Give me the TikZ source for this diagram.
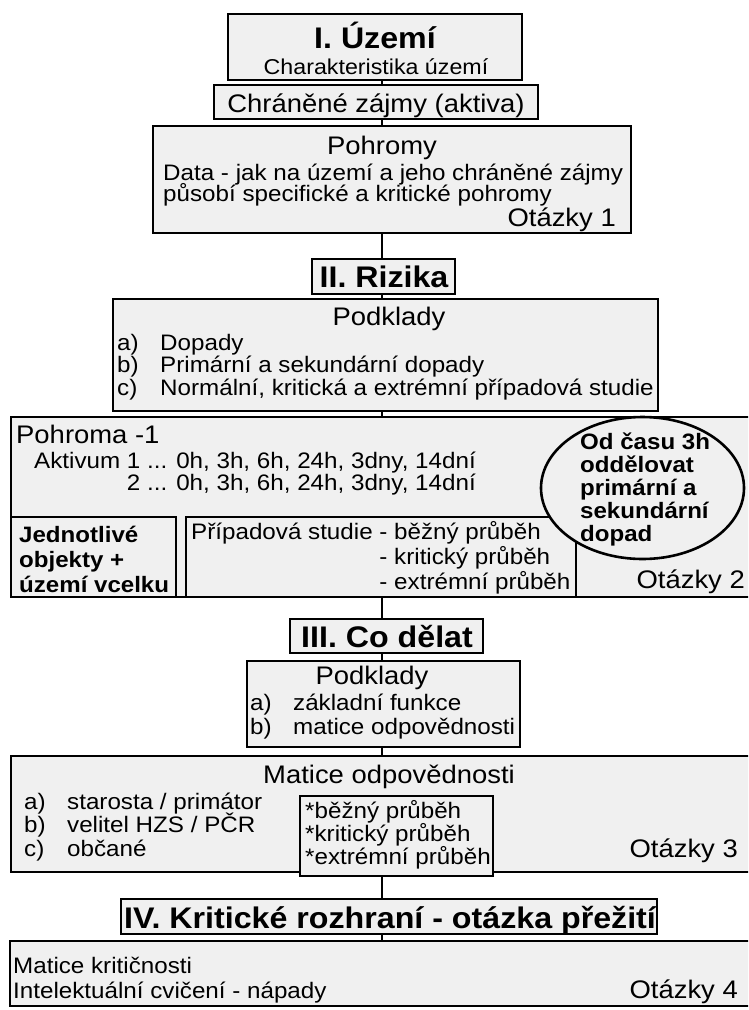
\documentclass[tikz,border=0pt]{standalone}
\usepackage{fontspec}
\setmainfont[FakeStretch=1.08]{Liberation Sans}
\usetikzlibrary{shapes.geometric}
\definecolor{boxfill}{HTML}{F0F0F0}
\newcommand{\txtbody}{\fontsize{22.4}{23}\selectfont}
\newcommand{\txtbold}{\fontsize{22.3}{23}\selectfont\bfseries}
\newcommand{\txtmid}{\fontsize{25.4}{26}\selectfont}
\newcommand{\txthead}{\fontsize{29.8}{30}\selectfont\bfseries}
\newcommand{\txtsmall}{\fontsize{21.5}{22}\selectfont}
\begin{document}
\begin{tikzpicture}[x=1pt,y=-1pt,
  box/.style={draw=black, line width=2.6pt, fill=boxfill, inner sep=0pt, rectangle},
  link/.style={draw=black, line width=2.8pt},
  txt/.style={inner sep=0pt, anchor=base west},
  ctxt/.style={inner sep=0pt, anchor=base},
  rtxt/.style={inner sep=0pt, anchor=base east}]
\useasboundingbox (0,0) rectangle (748,1010);
\clip (0,0) rectangle (748,1010);
\fill[white] (0,0) rectangle (748,1010);
\coordinate (spine) at (382,0);

% I. Uzemi
\node[box, minimum width=294pt, minimum height=66pt] (uzemi) at (375,47) {};
\node[ctxt, font=\txthead] (uzemiT) at (375,48) {I. Území};
\node[ctxt, font=\txtsmall] (uzemiS) at (376,74) {Charakteristika území};

\node[box, minimum width=324pt, minimum height=34pt] (aktiva) at (376,102) {};
\node[ctxt, font=\txtmid] (aktivaT) at (376,112) {Chráněné zájmy (aktiva)};

\node[box, minimum width=478pt, minimum height=107pt] (pohromy) at (392,179.5) {};
\node[ctxt, font=\txtmid] (pohromyT) at (382,154) {Pohromy};
\node[txt, font=\txtbody] (pohromyA) at (163,180) {Data - jak na území a jeho chráněné zájmy};
\node[txt, font=\txtbody] (pohromyB) at (163,201) {působí specifické a kritické pohromy};
\node[rtxt, font=\txtmid] (otazky1) at (616,226) {Otázky 1};

% II. Rizika
\node[box, minimum width=143pt, minimum height=35pt] (rizika) at (383.5,276.5) {};
\node[ctxt, font=\txthead] (rizikaT) at (384,287) {II. Rizika};

\node[box, minimum width=545pt, minimum height=112pt] (podklady) at (385.5,355) {};
\node[ctxt, font=\txtmid] (podkladyT) at (389,325) {Podklady};
\node[txt, font=\txtbody] (podkladyA) at (117,350) {\makebox[43pt][l]{a)}Dopady};
\node[txt, font=\txtbody] (podkladyB) at (117,372) {\makebox[43pt][l]{b)}Primární a sekundární dopady};
\node[txt, font=\txtbody] (podkladyC) at (117,395) {\makebox[43pt][l]{c)}Normální, kritická a extrémní případová studie};

\node[box, minimum width=749pt, minimum height=180pt] (pohroma) at (385.5,507) {};
\node[txt, font=\txtmid] (pohromaT) at (16,443) {Pohroma -1};
\node[txt, font=\txtbody] (aktivum1) at (34,468) {Aktivum 1 ... 0h, 3h, 6h, 24h, 3dny, 14dní};
\node[txt, font=\txtbody] (aktivum2) at (34,490) {\phantom{Aktivum }2 ... 0h, 3h, 6h, 24h, 3dny, 14dní};

\node[box, minimum width=165pt, minimum height=80pt] (objekty) at (93.5,557) {};
\node[txt, font=\txtbold] (objektyA) at (19,542) {Jednotlivé};
\node[txt, font=\txtbold] (objektyB) at (19,567) {objekty +};
\node[txt, font=\txtbold] (objektyC) at (19,592) {území vcelku};

\node[box, minimum width=390pt, minimum height=80pt] (studie) at (381,557) {};
\node[txt, font=\txtbody] (studieA) at (191,539) {Případová studie - běžný průběh};
\node[txt, font=\txtbody] (studieB) at (191,564) {\phantom{Případová studie }- kritický průběh};
\node[txt, font=\txtbody] (studieC) at (191,589) {\phantom{Případová studie }- extrémní průběh};

\node[box, ellipse, minimum width=203pt, minimum height=142pt] (cas) at (642.5,488) {};
\foreach \t [count=\i] in {Od času 3h, oddělovat, primární a, sekundární, dopad}
  \node[txt, font=\txtbold] (cas\i) at (580,{449+23*(\i-1)}) {\t};
\node[rtxt, font=\txtmid] (otazky2) at (745,588) {Otázky 2};

% III. Co delat
\node[box, minimum width=193pt, minimum height=34pt] (codelat) at (386.5,636) {};
\node[ctxt, font=\txthead] (codelatT) at (387,647) {III. Co dělat};

\node[box, minimum width=273pt, minimum height=86pt] (podklady2) at (383.5,704) {};
\node[ctxt, font=\txtmid] (podklady2T) at (372,684) {Podklady};
\node[txt, font=\txtbody] (podklady2A) at (250,710) {\makebox[43pt][l]{a)}základní funkce};
\node[txt, font=\txtbody] (podklady2B) at (250,734) {\makebox[43pt][l]{b)}matice odpovědnosti};

\node[box, minimum width=749pt, minimum height=116pt] (matice) at (385.5,814) {};
\node[ctxt, font=\txtmid] (maticeT) at (389,783) {Matice odpovědnosti};
\node[txt, font=\txtbody] (maticeA) at (24,809) {\makebox[43pt][l]{a)}starosta / primátor};
\node[txt, font=\txtbody] (maticeB) at (24,832) {\makebox[43pt][l]{b)}velitel HZS / PČR};
\node[txt, font=\txtbody] (maticeC) at (24,856) {\makebox[43pt][l]{c)}občané};

\node[box, minimum width=193pt, minimum height=80pt] (prubeh) at (396.5,836) {};
\node[txt, font=\txtbody] (prubehA) at (305,818) {*běžný průběh};
\node[txt, font=\txtbody] (prubehB) at (305,841) {*kritický průběh};
\node[txt, font=\txtbody] (prubehC) at (305,864) {*extrémní průběh};
\node[rtxt, font=\txtmid] (otazky3) at (738,857) {Otázky 3};

% IV. Kriticke rozhrani
\node[box, minimum width=536pt, minimum height=35pt] (prezit) at (389,916.5) {};
\node[ctxt, font=\txthead] (prezitT) at (390,928) {IV. Kritické rozhraní - otázka přežití};

\node[box, minimum width=750pt, minimum height=65pt] (kritic) at (385,973.5) {};
\node[txt, font=\txtbody] (kriticA) at (13,973) {Matice kritičnosti};
\node[txt, font=\txtbody] (kriticB) at (13,998) {Intelektuální cvičení - nápady};
\node[rtxt, font=\txtmid] (otazky4) at (738,998) {Otázky 4};

% vertical connectors along the spine
\draw[link] (uzemi.south -| spine) -- (aktiva.north -| spine);
\draw[link] (aktiva.south -| spine) -- (pohromy.north -| spine);
\draw[link] (pohromy.south -| spine) -- (rizika.north -| spine);
\draw[link] (rizika.south -| spine) -- (podklady.north -| spine);
\draw[link] (podklady.south -| spine) -- (pohroma.north -| spine);
\draw[link] (pohroma.south -| spine) -- (codelat.north -| spine);
\draw[link] (codelat.south -| spine) -- (podklady2.north -| spine);
\draw[link] (podklady2.south -| spine) -- (matice.north -| spine);
\draw[link] (prubeh.south -| spine) -- (prezit.north -| spine);
\draw[link] (prezit.south -| spine) -- (kritic.north -| spine);
\end{tikzpicture}
\end{document}
